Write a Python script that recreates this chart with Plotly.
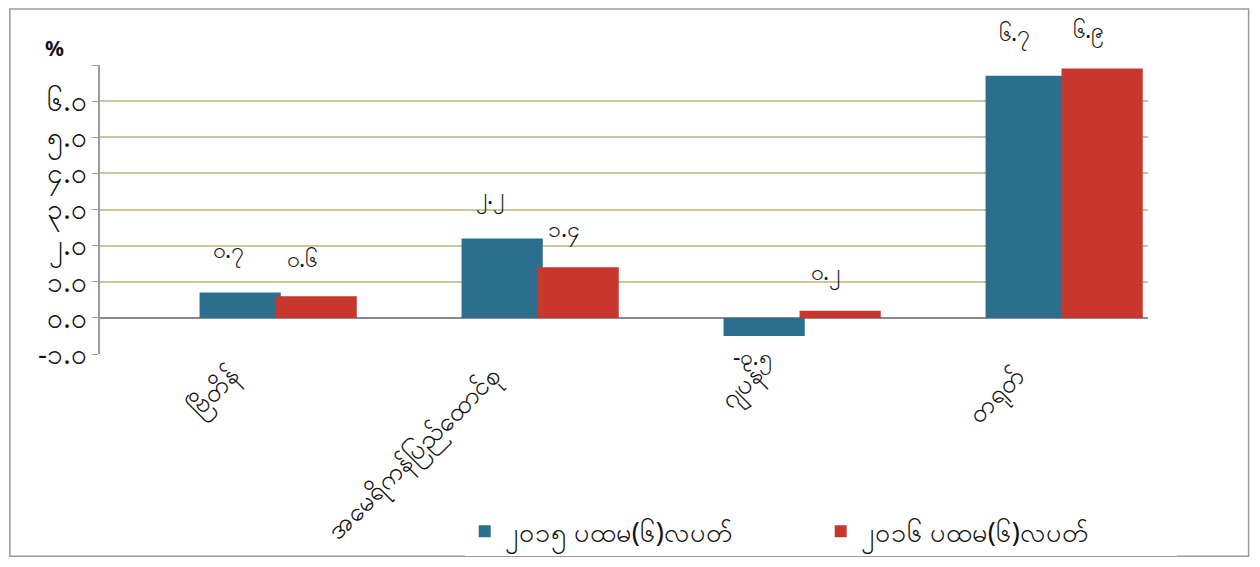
import plotly.graph_objects as go

categories = ["ဗြိတိန်", "အမေရိကန်ပြည်ထောင်စု", "ဂျပန်", "တရုတ်"]
series_2015 = [0.7, 2.2, -0.5, 6.7]
series_2016 = [0.6, 1.4, 0.2, 6.9]
labels_2015 = ["၀.၇", "၂.၂", "-၀.၅", "၆.၇"]
labels_2016 = ["၀.၆", "၁.၄", "၀.၂", "၆.၉"]
name_2015 = "၂၀၁၅ ပထမ(၆)လပတ်"
name_2016 = "၂၀၁၆ ပထမ(၆)လပတ်"
y_tickvals = [-1, 0, 1, 2, 3, 4, 5, 6, 7]
y_ticktext = ["-၁.၀", "၀.၀", "၁.၀", "၂.၀", "၃.၀", "၄.၀", "၅.၀", "၆.၀", ""]

FONT = "Noto Sans, DejaVu Sans, sans-serif"
BLUE = "#2c6e8e"
RED = "#c8372d"

fig = go.Figure()
fig.add_trace(go.Bar(x=categories, y=series_2015, name=name_2015,
                     marker=dict(color=BLUE, line=dict(width=0)),
                     offset=-0.12, width=0.31))
fig.add_trace(go.Bar(x=categories, y=series_2016, name=name_2016,
                     marker=dict(color=RED, line=dict(width=0)),
                     offset=0.17, width=0.31))

# data labels
for i, (v, t) in enumerate(zip(series_2015, labels_2015)):
    fig.add_annotation(x=i - 0.01, y=v, xref="x", yref="y", text=t, showarrow=False,
                       yshift=(42 if v >= 0 else -22), font=dict(size=23, color="#111", family=FONT))
for i, (v, t) in enumerate(zip(series_2016, labels_2016)):
    fig.add_annotation(x=i + 0.27, y=v, xref="x", yref="y", text=t, showarrow=False,
                       yshift=38, font=dict(size=23, color="#111", family=FONT))

fig.add_annotation(x=-0.043, y=1.005, xref="paper", yref="paper", text="<b>%</b>", showarrow=False,
                   font=dict(size=21, color="#111", family=FONT), xanchor="center", yanchor="bottom")

# outer border
fig.add_shape(type="rect", xref="paper", yref="paper", x0=-0.086, x1=1.096, y0=-0.70, y1=1.194,
              line=dict(color="#9a9a9a", width=1.5), fillcolor="rgba(0,0,0,0)", layer="below")

fig.update_layout(
    width=1244, height=551,
    margin=dict(l=92, r=104, t=57, b=205, autoexpand=False),
    paper_bgcolor="white", plot_bgcolor="white",
    barmode="overlay",
    showlegend=True,
    legend=dict(orientation="h", x=0.348, y=-0.615, xanchor="left", yanchor="middle",
                font=dict(size=27, color="#111", family=FONT),
                entrywidth=311, entrywidthmode="pixels", itemwidth=30),
    font=dict(family=FONT),
)
fig.update_xaxes(showgrid=False, tickangle=-45, tickfont=dict(size=26, color="#111", family=FONT),
                 showline=False, ticks="", range=[-0.5, 3.5], automargin=False)
fig.update_yaxes(range=[-1, 7], tickvals=y_tickvals, ticktext=y_ticktext,
                 tickfont=dict(size=28, color="#111", family=FONT),
                 showgrid=True, gridcolor="#c8c69c", gridwidth=1.5,
                 zeroline=True, zerolinecolor="#8a8a8a", zerolinewidth=1.5,
                 showline=True, linecolor="#9a9a9a", linewidth=1.5,
                 ticks="outside", ticklen=6, tickcolor="#9a9a9a", automargin=False)

fig.write_html("out.html")
